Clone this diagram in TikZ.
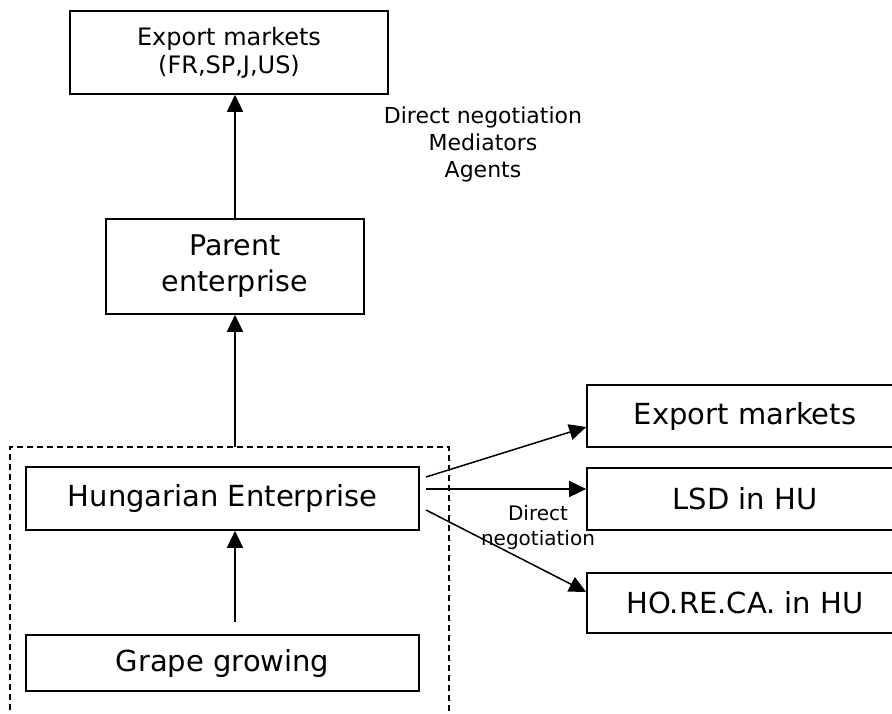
\documentclass[tikz,border=0pt]{standalone}
\usepackage{fontspec}
\setmainfont{DejaVu Sans}
\usetikzlibrary{arrows.meta}
\begin{document}
\begin{tikzpicture}[x=1pt,y=-1pt,
  box/.style={draw,line width=1.6pt,inner sep=0pt,align=center},
  arr/.style={line width=1.5pt,-{Triangle[length=17pt,width=16pt]}},
  grp/.style={draw,dashed,line width=1.3pt,dash pattern=on 6pt off 4pt},
  note/.style={inner sep=0pt,align=center}]
\useasboundingbox (0,0) rectangle (892,714);
\begin{scope}
\clip (0,0) rectangle (892,714);
% group frame around the Hungarian side
\draw[grp] (10,730) -- (10,447) -- (449,447) -- (449,730);
% boxes
\node[box,minimum width=318pt,minimum height=83pt,font=\fontsize{24}{28}\selectfont] (top) at (229,52.5) {Export markets\\(FR,SP,J,US)};
\node[box,minimum width=258pt,minimum height=95pt,font=\fontsize{28.5}{36}\selectfont] (parent) at (235,266.5) {Parent\\enterprise};
\node[box,minimum width=393pt,minimum height=63pt,font=\fontsize{29}{34}\selectfont] (hung) at (222.5,498.5) {Hungarian Enterprise};
\node[box,minimum width=393pt,minimum height=56pt,font=\fontsize{29}{34}\selectfont] (grape) at (222.5,663) {Grape growing};
\node[box,minimum width=316pt,minimum height=62pt,font=\fontsize{29}{34}\selectfont] (exp) at (745,416) {Export markets};
\node[box,minimum width=316pt,minimum height=62pt,font=\fontsize{29}{34}\selectfont] (lsd) at (745,499) {LSD in HU};
\node[box,minimum width=316pt,minimum height=60pt,font=\fontsize{29}{34}\selectfont] (horeca) at (745,603) {HO.RE.CA. in HU};
% labels
\node[note,font=\fontsize{22}{27}\selectfont] (chan) at (483,144) {Direct negotiation\\Mediators\\Agents};
\node[note,font=\fontsize{20}{25}\selectfont] (dn) at (538,527) {Direct\\negotiation};
% free ends of the connectors
\coordinate (gtop) at (235,447);
\coordinate (g0) at (235,622);
\coordinate (h1) at (426,477);
\coordinate (h2) at (426,489);
\coordinate (h3) at (426,510);
% connectors
\draw[arr] (parent.north) -- (parent.north |- top.south);
\draw[arr] (gtop) -- (gtop |- parent.south);
\draw[arr] (g0) -- (g0 |- hung.south);
\draw[arr] (h1) -- ([yshift=-11pt]exp.west);
\draw[arr] (h2) -- ([yshift=10pt]lsd.west);
\draw[arr] (h3) -- ([yshift=11pt]horeca.west);
\end{scope}
\end{tikzpicture}
\end{document}
